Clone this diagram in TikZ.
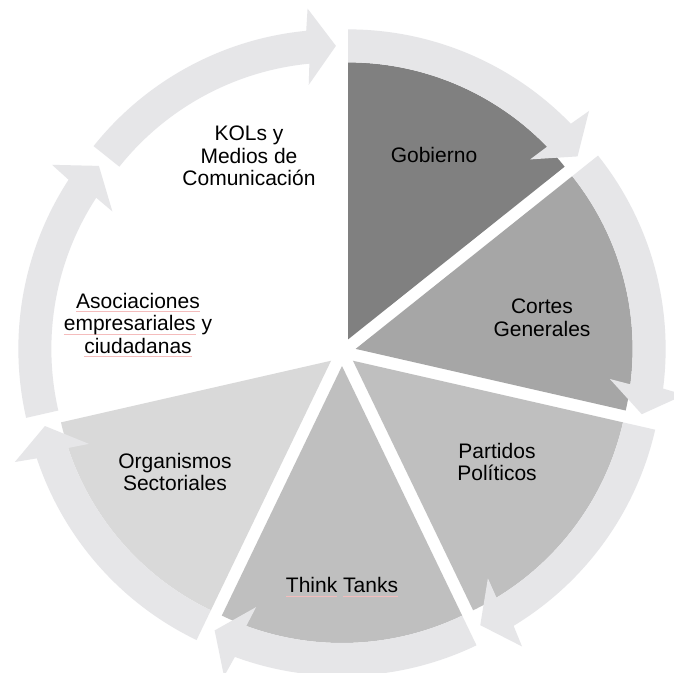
\documentclass[tikz,border=0pt]{standalone}
\usepackage{fontspec}
\setmainfont{Liberation Sans}
\usepackage{tikz}
\definecolor{grisflecha}{HTML}{E6E6E8}
\definecolor{gobiernogris}{HTML}{808080}
\definecolor{cortesgris}{HTML}{A6A6A6}
\definecolor{partidosgris}{HTML}{BFBFBF}
\definecolor{thinkgris}{HTML}{BFBFBF}
\definecolor{organismosgris}{HTML}{D9D9D9}
\definecolor{corrector}{HTML}{F4BCBC}
\tikzstyle{flecha}=[fill=grisflecha]
\tikzstyle{etiqueta}=[align=center, inner sep=0pt, font=\fontsize{21}{22.5}\selectfont]
\providecommand{\etiqueta}{\node[etiqueta]}
% subrayado del corrector ortografico
\newlength{\anchopalabra}
\newcommand{\subrayado}[1]{\settowidth{\anchopalabra}{#1}\rlap{\textcolor{corrector}{\rule[-3.5pt]{\anchopalabra}{0.6pt}}}#1}
% #1 angulo inicial, #2 angulo final, #3 color del sector
\providecommand{\segmento}[3]{%
  \pgfmathsetmacro{\medio}{(#1+#2)/2}
  \begin{scope}[shift={(\medio:14)}]
    \fill[#3] (0,0) -- (#1:277) arc[start angle=#1, end angle=#2, radius=277] -- cycle;
    \fill[flecha] (#1:277) arc[start angle=#1, end angle=#2+5.5, radius=277]
      -- (#2+6.1:256) -- (#2:293.5) -- (#2+4.9:332) -- (#2+5.5:310)
      arc[start angle=#2+5.5, end angle=#1, radius=310] -- cycle;
  \end{scope}}

\begin{document}
\begin{tikzpicture}[x=1pt, y=1pt]
\fill[white] (-342,-320) rectangle (332,352);
\useasboundingbox (-342,-320) rectangle (332,352);
\segmento{90}{38.571}{gobiernogris}
\segmento{38.571}{-12.857}{cortesgris}
\segmento{-12.857}{-64.286}{partidosgris}
\segmento{-64.286}{-115.714}{thinkgris}
\segmento{-115.714}{-167.143}{organismosgris}
\segmento{-167.143}{-218.571}{white}
\segmento{-218.571}{-270}{white}
\etiqueta (gobierno) at (92,197) {Gobierno};
\etiqueta (cortes) at (200,34) {Cortes\\Generales};
\etiqueta (partidos) at (155,-110) {Partidos\\Políticos};
\etiqueta (think) at (0,-235) {\subrayado{Think} \subrayado{Tanks}};
\etiqueta (organismos) at (-167,-120) {Organismos\\Sectoriales};
\etiqueta (asociaciones) at (-204,27) {\subrayado{Asociaciones}\\\subrayado{empresariales} y\\\subrayado{ciudadanas}};
\etiqueta (kols) at (-93,196) {KOLs y\\Medios de\\Comunicación};
\end{tikzpicture}
\end{document}
